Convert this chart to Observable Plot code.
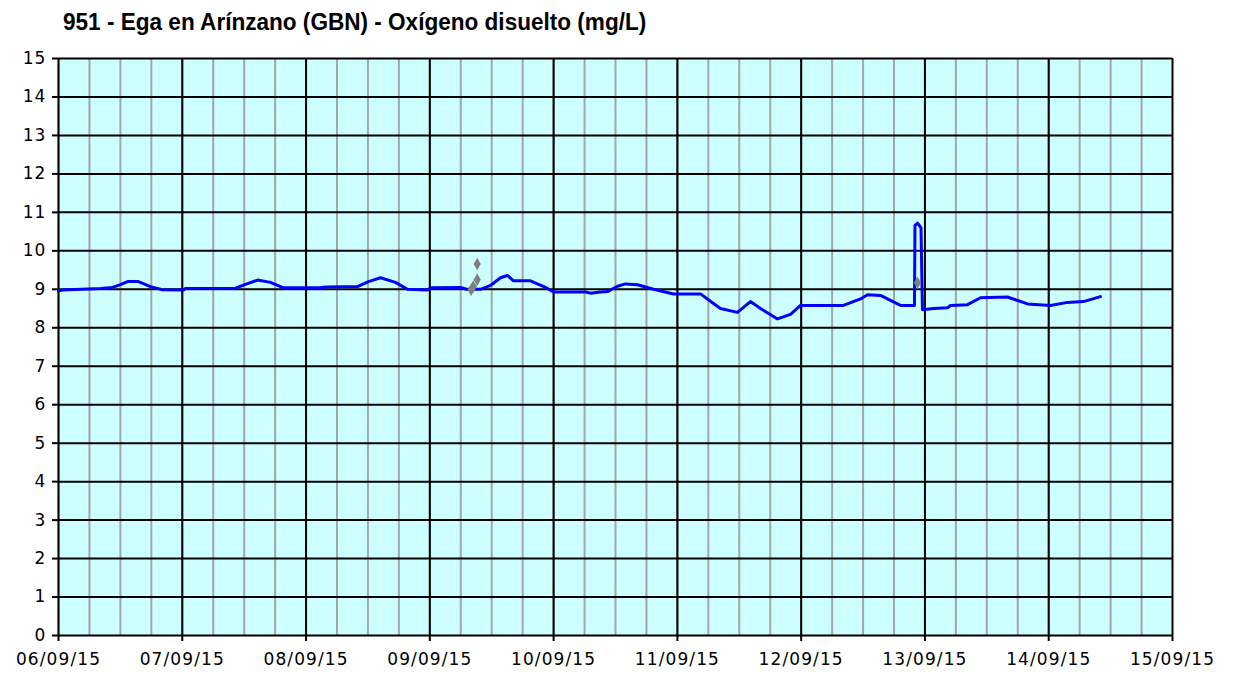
<!DOCTYPE html>
<html>
<head>
<meta charset="utf-8">
<script src="https://cdn.jsdelivr.net/npm/d3@7"></script>
<script src="https://cdn.jsdelivr.net/npm/@observablehq/plot@0.6"></script>
<style>
  html, body { margin: 0; padding: 0; background: #ffffff; }
  #title { height: 45px; box-sizing: border-box; padding: 10px 0 0 63px; white-space: nowrap; }
  #title span { display: inline-block; font: bold 24px/24px "Liberation Sans", Arial, sans-serif; color: #000;
                transform: scaleX(0.94); transform-origin: left center; }
  svg { display: block; }
</style>
</head>
<body>
<div id="title"><span>951 - Ega en Arínzano (GBN) - Oxígeno disuelto (mg/L)</span></div>
<div id="chart"></div>
<script>
// Series: dissolved oxygen (mg/L), UTC timestamps
const times = [
  "2015-09-06T00:00","2015-09-06T00:47","2015-09-06T08:08","2015-09-06T10:28","2015-09-06T12:01",
  "2015-09-06T13:23","2015-09-06T15:31","2015-09-06T17:50","2015-09-06T20:10","2015-09-07T00:14",
  "2015-09-07T00:37","2015-09-07T10:19","2015-09-07T12:15","2015-09-07T14:35","2015-09-07T17:06",
  "2015-09-07T19:37","2015-09-08T02:48","2015-09-08T03:46","2015-09-08T09:58","2015-09-08T12:06",
  "2015-09-08T14:26","2015-09-08T17:20","2015-09-08T19:40","2015-09-08T23:33","2015-09-09T00:08",
  "2015-09-09T05:57","2015-09-09T07:06","2015-09-09T09:49","2015-09-09T11:46","2015-09-09T13:42",
  "2015-09-09T15:03","2015-09-09T16:13","2015-09-09T19:31","2015-09-09T22:25","2015-09-09T23:59",
  "2015-09-10T06:11","2015-09-10T07:09","2015-09-10T09:05","2015-09-10T10:27","2015-09-10T12:23",
  "2015-09-10T13:56","2015-09-10T16:16","2015-09-10T19:22","2015-09-10T23:14","2015-09-11T04:29",
  "2015-09-11T06:48","2015-09-11T08:22","2015-09-11T11:39","2015-09-11T14:10","2015-09-11T16:07",
  "2015-09-11T19:25","2015-09-11T21:56","2015-09-11T23:52","2015-09-12T08:12","2015-09-12T11:30",
  "2015-09-12T12:52","2015-09-12T15:23","2015-09-12T17:19","2015-09-12T19:16","2015-09-12T21:58",
  "2015-09-12T22:04","2015-09-12T22:34","2015-09-12T23:14","2015-09-12T23:31","2015-09-13T01:39",
  "2015-09-13T04:22","2015-09-13T04:57","2015-09-13T08:15","2015-09-13T10:46","2015-09-13T16:00",
  "2015-09-13T19:53","2015-09-14T00:20","2015-09-14T03:38","2015-09-14T06:44","2015-09-14T10:02"
];
const values = [
  8.96, 8.98, 9.02, 9.05, 9.12,
  9.20, 9.20, 9.07, 8.99, 8.98,
  9.02, 9.03, 9.13, 9.24, 9.18,
  9.04, 9.04, 9.06, 9.07, 9.20,
  9.30, 9.18, 9.00, 8.98, 9.04,
  9.05, 9.00, 9.00, 9.10, 9.30,
  9.36, 9.22, 9.22, 9.05, 8.93,
  8.93, 8.90, 8.93, 8.94, 9.08,
  9.14, 9.12, 9.00, 8.88, 8.88,
  8.65, 8.50, 8.40, 8.68, 8.50,
  8.23, 8.35, 8.58, 8.58, 8.75,
  8.86, 8.84, 8.71, 8.58, 8.58,
  10.66, 10.72, 10.60, 8.47, 8.50,
  8.52, 8.58, 8.60, 8.78, 8.80,
  8.62, 8.58, 8.66, 8.68, 8.81
];
// Isolated grey samples
const pointTimes = ["2015-09-09T08:01","2015-09-09T08:25","2015-09-09T09:11","2015-09-09T09:11","2015-09-12T22:33"];
const pointValues = [8.99, 9.07, 9.25, 9.66, 9.17];

const dayTicks = ["2015-09-06","2015-09-07","2015-09-08","2015-09-09","2015-09-10",
                  "2015-09-11","2015-09-12","2015-09-13","2015-09-14","2015-09-15"];
const yTicks = [0,1,2,3,4,5,6,7,8,9,10,11,12,13,14,15];

const parse = s => new Date(s.length === 10 ? s + "T00:00Z" : s + "Z");
const series = times.map((t, i) => ({date: parse(t), value: values[i]}));
const points = pointTimes.map((t, i) => ({date: parse(t), value: pointValues[i]}));
const days = dayTicks.map(parse);
const sixHours = d3.utcHour.every(6).range(days[0], days[days.length - 1]);

const chart = Plot.plot({
  width: 1233,
  height: 630,
  marginTop: 13,
  marginBottom: 40,
  marginLeft: 58,
  marginRight: 61,
  style: {fontFamily: "'DejaVu Sans', Verdana, sans-serif", fontSize: "17px", letterSpacing: "1.1px", color: "#000", background: "#fff"},
  x: {type: "utc", domain: [days[0], days[days.length - 1]]},
  y: {domain: [0, 15]},
  marks: [
    Plot.frame({fill: "#ccffff", stroke: null}),
    Plot.ruleX(sixHours, {stroke: "#a6a6a6", strokeWidth: 2}),
    Plot.ruleX(days, {stroke: "#000", strokeWidth: 2}),
    Plot.ruleY(yTicks, {stroke: "#000", strokeWidth: 2}),
    Plot.axisX({ticks: days, tickFormat: d3.utcFormat("%d/%m/%y"), tickSize: 6, tickPadding: 11, label: null, stroke: "#000", strokeWidth: 2}),
    Plot.axisY({ticks: yTicks, tickSize: 6, tickPadding: 6, label: null, stroke: "#000", strokeWidth: 2}),
    Plot.line(series, {x: "date", y: "value", stroke: "#0000ff", strokeWidth: 3}),
    Plot.dot(points, {x: "date", y: "value", symbol: "diamond", r: 3.8, fill: "#808080", stroke: null})
  ]
});
document.getElementById("chart").appendChild(chart);
</script>
</body>
</html>
